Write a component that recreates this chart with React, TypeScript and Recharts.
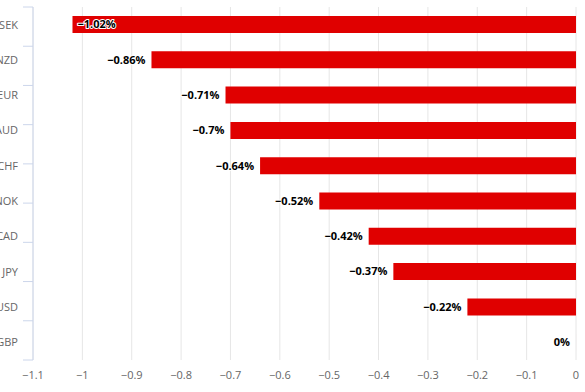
import React from 'react';
import { BarChart, Bar, XAxis, YAxis, CartesianGrid, LabelList } from 'recharts';

const currencies = ['SEK', 'NZD', 'EUR', 'AUD', 'CHF', 'NOK', 'CAD', 'JPY', 'USD', 'GBP'];
const changes = [-1.02, -0.86, -0.71, -0.7, -0.64, -0.52, -0.42, -0.37, -0.22, 0];
const xTicks = [-1.1, -1, -0.9, -0.8, -0.7, -0.6, -0.5, -0.4, -0.3, -0.2, -0.1, 0];
const boundaryTicks = [0, 1, 2, 3, 4, 5, 6, 7, 8, 9, 10];

const data = currencies.map((c, i) => ({ name: c, value: changes[i] }));

const FONT = '"Open Sans", "DejaVu Sans", sans-serif';
const PLOT_LEFT = 33;

const fmtNum = (v: number) => String(v).replace('-', '\u2212');

// label sits left of the bar end, or inside the bar when there's no room
const ValueLabel = (props: any) => {
  const { x, y, width, height, value } = props;
  const left = Math.min(Number(x), Number(x) + Number(width));
  const text = `${fmtNum(Number(value))}%`;
  const approxW = text.length * 6.6;
  const inside = left - 6 - approxW < PLOT_LEFT;
  return (
    <text
      x={inside ? left + 5 : left - 6}
      y={Number(y) + Number(height) / 2}
      dy="0.35em"
      textAnchor={inside ? 'start' : 'end'}
      fontFamily={FONT}
      fontSize={11}
      fontWeight="bold"
      fill="#000"
      stroke="#fff"
      strokeWidth={2}
      strokeLinejoin="round"
      paintOrder="stroke"
    >
      {text}
    </text>
  );
};

export default function App() {
  return (
    <div style={{ position: 'absolute', left: 0, top: 0, width: 585, height: 392, overflow: 'hidden', background: '#fff' }}>
      <BarChart
        width={585}
        height={392}
        data={data}
        layout="vertical"
        margin={{ top: 7, right: 9, bottom: 0, left: 0 }}
        barCategoryGap={0}
      >
        <CartesianGrid horizontal={false} stroke="#e6e6e6" yAxisId="cat" />
        <XAxis
          type="number"
          dataKey="value"
          domain={[-1.1, 0]}
          ticks={xTicks}
          interval={0}
          tickFormatter={fmtNum}
          axisLine={false}
          tickLine={false}
          tickSize={8}
          tickMargin={3}
          height={32}
          tick={{ fill: '#666', fontSize: 11, fontFamily: FONT }}
        />
        {/* number axis only for the between-category tick marks and axis line */}
        <YAxis
          yAxisId="axis"
          type="number"
          domain={[0, 10]}
          ticks={boundaryTicks}
          interval={0}
          reversed
          width={10}
          tickSize={10}
          tickFormatter={() => ''}
          axisLine={{ stroke: '#ccd6eb' }}
          tickLine={{ stroke: '#ccd6eb' }}
        />
        <YAxis
          yAxisId="cat"
          type="category"
          dataKey="name"
          width={23}
          axisLine={false}
          tickLine={false}
          tickSize={0}
          tickMargin={5}
          tick={{ fill: '#666', fontSize: 11, fontFamily: FONT }}
        />
        <Bar
          yAxisId="cat"
          dataKey="value"
          fill="#e00000"
          barSize={17}
          minPointSize={(v: number) => (v === 0 ? 0.01 : 0)}
          isAnimationActive={false}
        >
          <LabelList dataKey="value" content={<ValueLabel />} />
        </Bar>
      </BarChart>
    </div>
  );
}
